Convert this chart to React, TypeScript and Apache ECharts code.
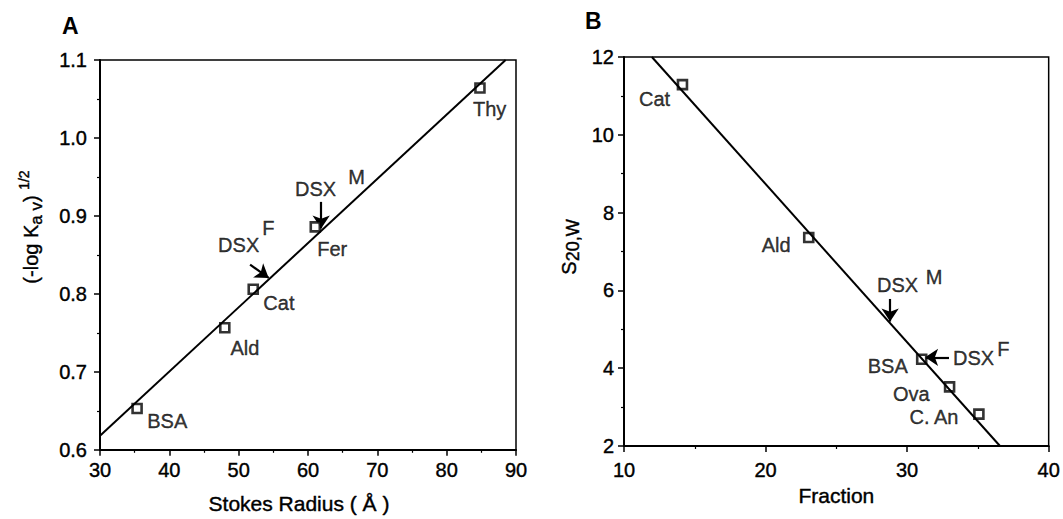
import React, { useEffect, useRef } from "react";
import * as echarts from "echarts";

// ---------- Panel A data ----------
const aLineX = [30, 88.5];
const aLineY = [0.618, 1.1];
const aProteins = ["BSA", "Ald", "Cat", "Fer", "Thy"];
const aRadius = [35.35, 48.0, 52.1, 61.05, 84.8];
const aKav = [0.653, 0.7565, 0.806, 0.886, 1.064];
const aLabelText = ["BSA", "Ald", "Cat", "Fer", "Thy", "DSX", "M", "DSX", "F"];
const aLabelX = [39.7, 50.9, 55.8, 63.5, 86.2, 61.1, 67.0, 50.0, 54.3];
const aLabelY = [0.637, 0.731, 0.788, 0.858, 1.037, 0.935, 0.95, 0.8625, 0.884];
const aArrowFromX = [61.9, 51.65];
const aArrowFromY = [0.918, 0.8375];
const aArrowToX = [61.9, 54.33];
const aArrowToY = [0.884, 0.8205];

// ---------- Panel B data ----------
const bLineX = [11.97, 36.56];
const bLineY = [12, 2];
const bProteins = ["Cat", "Ald", "BSA", "Ova", "C. An"];
const bFraction = [14.13, 23.05, 31.03, 33.0, 35.07];
const bS = [11.29, 7.36, 4.23, 3.52, 2.82];
const bLabelText = ["Cat", "Ald", "BSA", "Ova", "C. An", "DSX", "M", "DSX", "F"];
const bLabelX = [12.16, 20.75, 28.63, 30.3, 31.9, 29.33, 31.9, 34.69, 36.8];
const bLabelY = [10.92, 7.17, 4.06, 3.33, 2.75, 6.15, 6.34, 4.26, 4.49];
const bArrowFromX = [28.8, 32.96];
const bArrowFromY = [5.78, 4.28];
const bArrowToX = [28.8, 31.27];
const bArrowToY = [5.2, 4.28];

const FONT = "Liberation Sans, Arial, Helvetica, sans-serif";
const INK = { textBorderColor: "#000", textBorderWidth: 0.4 };

function axisCommon() {
  return {
    axisLine: { show: true, onZero: false, lineStyle: { color: "#000", width: 2 } },
    axisTick: { show: true, inside: false, length: 6, lineStyle: { color: "#000", width: 1.5 } },
    minorTick: { show: true, splitNumber: 2, length: 3, lineStyle: { color: "#000", width: 1.2 } },
    splitLine: { show: false },
    axisLabel: { color: "#000", fontSize: 20, fontFamily: FONT, ...INK },
    nameTextStyle: { color: "#000", fontSize: 20, fontFamily: FONT, ...INK },
  };
}

function labelSeries(texts: string[], xs: number[], ys: number[], xi: number) {
  return {
    type: "scatter",
    xAxisIndex: xi,
    yAxisIndex: xi,
    symbolSize: 0,
    silent: true,
    data: texts.map((t, i) => ({ name: t, value: [xs[i], ys[i]] })),
    label: {
      show: true,
      position: [0, 0],
      align: "center",
      verticalAlign: "middle",
      formatter: "{b}",
      color: "#000",
      fontSize: 20,
      fontFamily: FONT,
      ...INK,
    },
  };
}

function arrowSeries(fx: number[], fy: number[], tx: number[], ty: number[], xi: number) {
  return {
    type: "lines",
    coordinateSystem: "cartesian2d",
    xAxisIndex: xi,
    yAxisIndex: xi,
    symbol: ["none", "arrow"],
    symbolSize: 13,
    silent: true,
    lineStyle: { color: "#000", width: 2.2, opacity: 1, curveness: 0 },
    data: fx.map((_, i) => ({ coords: [[fx[i], fy[i]], [tx[i], ty[i]]] })),
  };
}

export default function App() {
  const ref = useRef<HTMLDivElement>(null);
  useEffect(() => {
    if (!ref.current) return;
    const chart = echarts.init(ref.current, null, { renderer: "svg" });
    const c = axisCommon();
    const marker = {
      symbol: "rect",
      symbolSize: 9,
      itemStyle: { color: "#fff", borderColor: "#000", borderWidth: 2.6 },
    };
    const option: any = {
      animation: false,
      backgroundColor: "#fff",
      textStyle: { fontFamily: FONT },
      grid: [
        { left: 100, top: 60, width: 416, height: 393, show: true, borderColor: "#000", borderWidth: 1.5 },
        { left: 624, top: 57, width: 426, height: 389, show: true, borderColor: "#000", borderWidth: 1.5 },
      ],
      xAxis: [
        {
          ...c,
          type: "value",
          gridIndex: 0,
          min: 30,
          max: 90,
          interval: 10,
          axisLabel: { ...c.axisLabel, margin: 10 },
          name: "Stokes Radius ( Å )",
          nameLocation: "middle",
          nameGap: 43,
          nameTextStyle: { ...c.nameTextStyle, fontSize: 21, padding: [0, 18, 0, 0] },
        },
        {
          ...c,
          type: "value",
          gridIndex: 1,
          min: 10,
          max: 40,
          interval: 10,
          axisLabel: { ...c.axisLabel, margin: 14 },
          name: "Fraction",
          nameLocation: "middle",
          nameGap: 35,
          nameTextStyle: { ...c.nameTextStyle, fontSize: 21 },
        },
      ],
      yAxis: [
        {
          ...c,
          type: "value",
          gridIndex: 0,
          min: 0.6,
          max: 1.1,
          interval: 0.1,
          axisLabel: { ...c.axisLabel, margin: 13, formatter: (v: number) => v.toFixed(1) },
        },
        {
          ...c,
          type: "value",
          gridIndex: 1,
          min: 2,
          max: 12,
          interval: 2,
          axisLabel: { ...c.axisLabel, margin: 10 },
        },
      ],
      graphic: [
        {
          type: "text",
          left: 62,
          top: 14,
          style: { text: "A", fontSize: 23, fontWeight: 900, fill: "#000", fontFamily: FONT },
        },
        {
          type: "text",
          left: 585,
          top: 9,
          style: { text: "B", fontSize: 23, fontWeight: 900, fill: "#000", fontFamily: FONT },
        },
        {
          type: "text",
          x: 31,
          y: 227,
          rotation: Math.PI / 2,
          style: {
            text: "{b|(-log K}{sub|a v}{b|) }{sup|1/2}",
            align: "center",
            verticalAlign: "middle",
            fill: "#000",
            rich: {
              b: { fontSize: 20, fontFamily: FONT, lineHeight: 28, verticalAlign: "middle", fill: "#000", stroke: "#000", lineWidth: 0.4 },
              sub: { fontSize: 17, fontFamily: FONT, lineHeight: 17, verticalAlign: "bottom", fill: "#000", stroke: "#000", lineWidth: 0.4 },
              sup: { fontSize: 14, fontFamily: FONT, lineHeight: 14, verticalAlign: "top", fill: "#000", stroke: "#000", lineWidth: 0.4 },
            },
          },
        },
        {
          type: "text",
          x: 569,
          y: 247,
          rotation: Math.PI / 2,
          style: {
            text: "{b|S}{sub|20,W}",
            align: "center",
            verticalAlign: "middle",
            fill: "#000",
            rich: {
              b: { fontSize: 20, fontFamily: FONT, lineHeight: 26, verticalAlign: "middle", fill: "#000", stroke: "#000", lineWidth: 0.4 },
              sub: { fontSize: 18, fontFamily: FONT, lineHeight: 18, verticalAlign: "bottom", fill: "#000", stroke: "#000", lineWidth: 0.4 },
            },
          },
        },
      ],
      series: [
        {
          type: "line",
          xAxisIndex: 0,
          yAxisIndex: 0,
          showSymbol: false,
          silent: true,
          lineStyle: { color: "#000", width: 2 },
          data: aLineX.map((x, i) => [x, aLineY[i]]),
        },
        {
          type: "scatter",
          xAxisIndex: 0,
          yAxisIndex: 0,
          ...marker,
          data: aProteins.map((p, i) => ({ name: p, value: [aRadius[i], aKav[i]] })),
        },
        labelSeries(aLabelText, aLabelX, aLabelY, 0),
        arrowSeries(aArrowFromX, aArrowFromY, aArrowToX, aArrowToY, 0),
        {
          type: "line",
          xAxisIndex: 1,
          yAxisIndex: 1,
          showSymbol: false,
          silent: true,
          lineStyle: { color: "#000", width: 2 },
          data: bLineX.map((x, i) => [x, bLineY[i]]),
        },
        {
          type: "scatter",
          xAxisIndex: 1,
          yAxisIndex: 1,
          ...marker,
          data: bProteins.map((p, i) => ({ name: p, value: [bFraction[i], bS[i]] })),
        },
        labelSeries(bLabelText, bLabelX, bLabelY, 1),
        arrowSeries(bArrowFromX, bArrowFromY, bArrowToX, bArrowToY, 1),
      ],
    };
    chart.setOption(option);
    return () => chart.dispose();
  }, []);
  return (
    <div
      ref={ref}
      style={{ position: "fixed", left: 0, top: 0, width: 1063, height: 519, background: "#fff" }}
    />
  );
}
